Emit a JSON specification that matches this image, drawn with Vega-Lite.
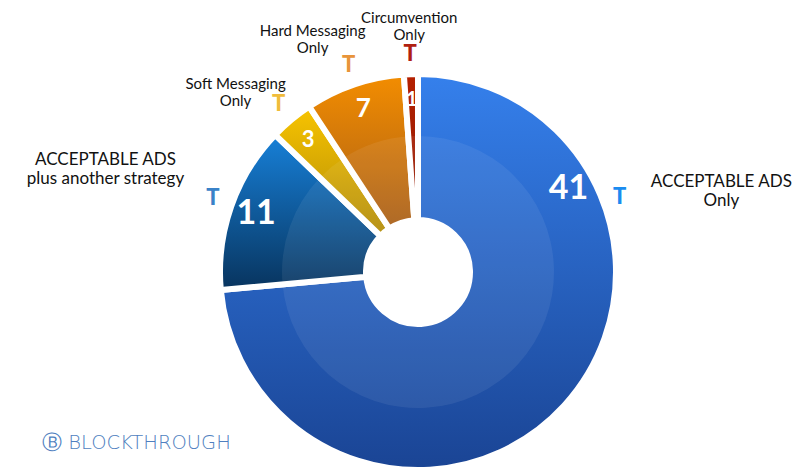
{
  "$schema": "https://vega.github.io/schema/vega-lite/v6.json",
  "autosize": "none",
  "width": 756,
  "height": 316,
  "padding": {"left": 40, "top": 114, "right": 2, "bottom": 41},
  "background": "white",
  "config": {"view": {"stroke": null}, "text": {"font": "Lato"}},
  "title": {"text": "Ⓑ BLOCKTHROUGH", "orient": "none", "anchor": "start", "font": "DejaVu Sans", "fontSize": 19.5, "fontWeight": 200, "color": "#4f7fc0", "dx": 2, "dy": 320, "baseline": "top", "align": "left"},
  "data": {"values": [
    {"category": "ACCEPTABLE ADS Only", "label": "ACCEPTABLE ADS\nOnly", "value": 41, "rank": 1},
    {"category": "ACCEPTABLE ADS plus another strategy", "label": "ACCEPTABLE ADS\nplus another strategy", "value": 11, "rank": 2},
    {"category": "Soft Messaging Only", "label": "Soft Messaging\nOnly", "value": 3, "rank": 3},
    {"category": "Hard Messaging Only", "label": "Hard Messaging\nOnly", "value": 7, "rank": 4},
    {"category": "Circumvention Only", "label": "Circumvention\nOnly", "value": 1, "rank": 5}
  ]},
  "encoding": {
    "theta": {"field": "value", "type": "quantitative", "stack": true, "scale": {"type": "pow", "exponent": 0.715, "domain": [0, 63]}},
    "order": {"field": "rank", "type": "quantitative"}
  },
  "layer": [
    {
      "mark": {"type": "arc", "innerRadius": 52, "outerRadius": 198, "stroke": "white", "strokeWidth": 6},
      "encoding": {
        "color": {
          "condition": [
            {"test": "datum.rank === 1", "value": {"gradient": "linear", "x1": 0, "y1": 0, "x2": 0, "y2": 1, "stops": [{"offset": 0, "color": "#3580ec"}, {"offset": 1, "color": "#1a4494"}]}},
            {"test": "datum.rank === 2", "value": {"gradient": "linear", "x1": 0, "y1": 0, "x2": 0, "y2": 1, "stops": [{"offset": 0, "color": "#1780d8"}, {"offset": 1, "color": "#08345e"}]}},
            {"test": "datum.rank === 3", "value": {"gradient": "linear", "x1": 0, "y1": 0, "x2": 0, "y2": 1, "stops": [{"offset": 0, "color": "#f8c400"}, {"offset": 1, "color": "#b08a08"}]}},
            {"test": "datum.rank === 4", "value": {"gradient": "linear", "x1": 0, "y1": 0, "x2": 0, "y2": 1, "stops": [{"offset": 0, "color": "#f38d00"}, {"offset": 1, "color": "#a85e18"}]}}
          ],
          "value": {"gradient": "linear", "x1": 0, "y1": 0, "x2": 0, "y2": 1, "stops": [{"offset": 0, "color": "#b52000"}, {"offset": 1, "color": "#8e1a04"}]}
        }
      }
    },
    {
      "mark": {"type": "arc", "innerRadius": 55, "outerRadius": 136, "fill": "white", "fillOpacity": 0.07}
    },
    {
      "mark": {"type": "text", "radius": 172, "fontWeight": "bold", "color": "white", "align": "center", "baseline": "middle"},
      "encoding": {
        "text": {"condition": {"test": "datum.rank === 1", "value": ""}, "field": "value", "type": "quantitative"},
        "size": {"field": "category", "type": "nominal", "scale": {"type": "ordinal", "domain": ["ACCEPTABLE ADS Only", "ACCEPTABLE ADS plus another strategy", "Soft Messaging Only", "Hard Messaging Only", "Circumvention Only"], "range": [34, 34, 22, 26, 20]}, "legend": null}
      }
    },
    {
      "mark": {"type": "text", "radius": 172, "thetaOffset": -1.75, "fontWeight": "bold", "color": "white", "fontSize": 34, "align": "center", "baseline": "middle"},
      "encoding": {
        "text": {"condition": {"test": "datum.rank !== 1", "value": ""}, "field": "value", "type": "quantitative"}
      }
    },
    {
      "mark": {"type": "text", "radius": 218, "fontWeight": 900, "fontSize": 22, "align": "center", "baseline": "middle"},
      "encoding": {
        "text": {"condition": {"test": "datum.rank === 1", "value": ""}, "value": "T"},
        "color": {"field": "category", "type": "nominal", "scale": {"domain": ["ACCEPTABLE ADS Only", "ACCEPTABLE ADS plus another strategy", "Soft Messaging Only", "Hard Messaging Only", "Circumvention Only"], "range": ["#1a8cf0", "#3a82c8", "#f0bc3a", "#e8943a", "#b02010"]}, "legend": null}
      }
    },
    {
      "mark": {"type": "text", "radius": 215, "thetaOffset": -1.6, "fontWeight": 900, "fontSize": 22, "align": "center", "baseline": "middle", "color": "#1a8cf0"},
      "encoding": {
        "text": {"condition": {"test": "datum.rank !== 1", "value": ""}, "value": "T"}
      }
    },
    {
      "mark": {"type": "text", "radius": 256, "thetaOffset": -0.1, "dy": -8, "fontSize": 15, "lineBreak": "\n", "align": "center", "baseline": "middle", "color": "#111111"},
      "encoding": {
        "text": {"condition": {"test": "datum.rank <= 2 || datum.rank === 5", "value": ""}, "field": "label", "type": "nominal"}
      }
    },
    {
      "mark": {"type": "text", "radius": 246, "dy": -8, "fontSize": 15, "lineBreak": "\n", "align": "center", "baseline": "middle", "color": "#111111"},
      "encoding": {
        "text": {"condition": {"test": "datum.rank !== 5", "value": ""}, "field": "label", "type": "nominal"}
      }
    },
    {
      "mark": {"type": "text", "radius": 332, "fontSize": 17, "lineBreak": "\n", "align": "center", "baseline": "middle", "color": "#111111"},
      "encoding": {
        "text": {"condition": {"test": "datum.rank !== 2", "value": ""}, "field": "label", "type": "nominal"}
      }
    },
    {
      "mark": {"type": "text", "radius": 314, "thetaOffset": -1.506, "dy": -9, "fontSize": 17, "lineBreak": "\n", "align": "center", "baseline": "middle", "color": "#111111"},
      "encoding": {
        "text": {"condition": {"test": "datum.rank !== 1", "value": ""}, "field": "label", "type": "nominal"}
      }
    }
  ]
}
